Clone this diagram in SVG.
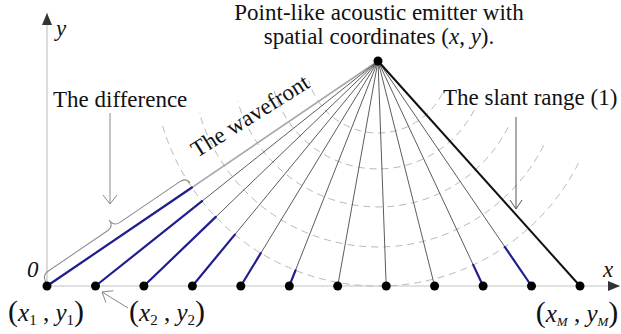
<svg xmlns="http://www.w3.org/2000/svg" width="621" height="334" viewBox="0 0 621 334">
<style>
text{font-family:"Liberation Serif","Times New Roman",serif;fill:#111}
.lbl{font-size:23px}
.coord{font-size:25px}
.it{font-style:italic}
.arc{fill:none;stroke:#b8b8b8;stroke-width:1;stroke-dasharray:7 5}
.ray{stroke:#4a4a4a;stroke-width:0.9}
.blue{stroke:#1f1f8f;stroke-width:2.2;stroke-linecap:round}
.axis{stroke:#c4c4c4;stroke-width:1.2}
.ann{fill:none;stroke:#8a8a8a;stroke-width:1}
.dot{fill:#000}
</style>
<defs>
<marker id="axisArrow" viewBox="0 0 12 10" refX="12" refY="5" markerWidth="12" markerHeight="10" markerUnits="userSpaceOnUse" orient="auto">
<path d="M0,0 L12,5 L0,10 z" fill="#333"/>
</marker>
<marker id="openV" viewBox="0 0 10 16" refX="9.5" refY="8" markerWidth="10" markerHeight="16" markerUnits="userSpaceOnUse" orient="auto">
<path d="M0.5,1 L9.5,8 L0.5,15" fill="none" stroke="#8a8a8a" stroke-width="1"/>
</marker>
<marker id="openVdark" viewBox="0 0 10 14" refX="9.5" refY="7" markerWidth="10" markerHeight="14" markerUnits="userSpaceOnUse" orient="auto">
<path d="M0.5,1 L9.5,7 L0.5,13" fill="none" stroke="#555" stroke-width="1"/>
</marker>
</defs>
<rect width="621" height="334" fill="#fff"/>

<g id="axes">
<line class="axis" x1="47" y1="286" x2="47" y2="13" marker-end="url(#axisArrow)"/>
<line class="axis" x1="47" y1="286" x2="620" y2="286" marker-end="url(#axisArrow)"/>
<text class="lbl it" x="56" y="36">y</text>
<text class="lbl it" x="603" y="277">x</text>
<text class="lbl it" x="27" y="277">0</text>
</g>

<g id="wavefronts">
<path class="arc" d="M578.5,163.2 A225,225 0 0 1 161.7,123"/>
<path class="arc" d="M543.7,145.4 A186,186 0 0 1 199.2,112.3"/>
<path class="arc" d="M508.1,127.3 A146,146 0 0 1 237.7,101.2"/>
<path class="arc" d="M474.2,110 A108,108 0 0 1 274.2,90.8"/>
<path class="arc" d="M442.2,93.7 A72,72 0 0 1 308.8,80.8"/>
</g>

<g id="connectors">
<line x1="378" y1="61" x2="47" y2="286" stroke="#a8a8a8" stroke-width="1.6"/>
<line class="ray" x1="378" y1="61" x2="95.5" y2="286"/>
<line class="ray" x1="378" y1="61" x2="143.9" y2="286"/>
<line class="ray" x1="378" y1="61" x2="192.4" y2="286"/>
<line class="ray" x1="378" y1="61" x2="240.8" y2="286"/>
<line class="ray" x1="378" y1="61" x2="289.3" y2="286"/>
<line class="ray" x1="378" y1="61" x2="337.7" y2="286"/>
<line class="ray" x1="378" y1="61" x2="386.2" y2="286"/>
<line class="ray" x1="378" y1="61" x2="434.6" y2="286"/>
<line class="ray" x1="378" y1="61" x2="483.1" y2="286"/>
<line class="ray" x1="378" y1="61" x2="531.5" y2="286"/>
<line x1="378" y1="61" x2="580" y2="286" stroke="#111" stroke-width="2"/>
<line class="blue" x1="47" y1="286" x2="191.9" y2="187.5"/>
<line class="blue" x1="95.5" y1="286" x2="202" y2="201.2"/>
<line class="blue" x1="143.9" y1="286" x2="215.8" y2="216.9"/>
<line class="blue" x1="192.4" y1="286" x2="234.8" y2="234.6"/>
<line class="blue" x1="240.8" y1="286" x2="260.8" y2="253.1"/>
<line class="blue" x1="289.3" y1="286" x2="295.5" y2="270.3"/>
<line class="blue" x1="483.1" y1="286" x2="473.2" y2="264.9"/>
<line class="blue" x1="531.5" y1="286" x2="504.8" y2="246.9"/>
<path class="ann" transform="translate(47,284) rotate(-34.2)" d="M0,0 Q0,-10 8,-10 L80,-10 Q87.5,-10 87.5,-18 Q87.5,-10 95,-10 L167,-10 Q175,-10 175,-3"/>
<line class="ann" x1="110" y1="113" x2="110" y2="204" marker-end="url(#openV)"/>
<line x1="516" y1="117" x2="516" y2="209" stroke="#555" stroke-width="1" marker-end="url(#openVdark)"/>
<line class="ann" x1="128" y1="308" x2="102" y2="292" marker-end="url(#openV)"/>
</g>

<g id="emitter">
<circle class="dot" cx="378" cy="61" r="4.5"/>
<text class="lbl" x="379" y="20" text-anchor="middle">Point-like acoustic emitter with</text>
<text class="lbl" x="379" y="44" text-anchor="middle">spatial coordinates (<tspan class="it">x</tspan>, <tspan class="it">y</tspan>).</text>
</g>

<g id="sensor-1"><circle class="dot" cx="47" cy="286" r="4.5"/>
<text class="coord" x="46" y="321" text-anchor="middle"><tspan font-size="30">(</tspan><tspan class="it">x</tspan><tspan font-size="15" dy="4">1</tspan><tspan dy="-4"> , </tspan><tspan class="it">y</tspan><tspan font-size="15" dy="4">1</tspan><tspan font-size="30" dy="-4">)</tspan></text></g>
<g id="sensor-2"><circle class="dot" cx="95.5" cy="286" r="4.5"/>
<text class="coord" x="167" y="321" text-anchor="middle"><tspan font-size="30">(</tspan><tspan class="it">x</tspan><tspan font-size="15" dy="4">2</tspan><tspan dy="-4"> , </tspan><tspan class="it">y</tspan><tspan font-size="15" dy="4">2</tspan><tspan font-size="30" dy="-4">)</tspan></text></g>
<g id="sensor-3"><circle class="dot" cx="143.9" cy="286" r="4.5"/></g>
<g id="sensor-4"><circle class="dot" cx="192.4" cy="286" r="4.5"/></g>
<g id="sensor-5"><circle class="dot" cx="240.8" cy="286" r="4.5"/></g>
<g id="sensor-6"><circle class="dot" cx="289.3" cy="286" r="4.5"/></g>
<g id="sensor-7"><circle class="dot" cx="337.7" cy="286" r="4.5"/></g>
<g id="sensor-8"><circle class="dot" cx="386.2" cy="286" r="4.5"/></g>
<g id="sensor-9"><circle class="dot" cx="434.6" cy="286" r="4.5"/></g>
<g id="sensor-10"><circle class="dot" cx="483.1" cy="286" r="4.5"/></g>
<g id="sensor-11"><circle class="dot" cx="531.5" cy="286" r="4.5"/></g>
<g id="sensor-M"><circle class="dot" cx="580" cy="286" r="4.5"/>
<text class="coord" x="577" y="322" text-anchor="middle"><tspan font-size="30">(</tspan><tspan class="it">x</tspan><tspan class="it" font-size="13" dy="4">M</tspan><tspan dy="-4"> , </tspan><tspan class="it">y</tspan><tspan class="it" font-size="13" dy="4">M</tspan><tspan font-size="30" dy="-4">)</tspan></text></g>

<g id="labels">
<text class="lbl" x="53" y="107">The difference</text>
<text class="lbl" x="443" y="105">The slant range (1)</text>
<text class="lbl" transform="translate(197,158) rotate(-32)">The wavefront</text>
</g>
</svg>
